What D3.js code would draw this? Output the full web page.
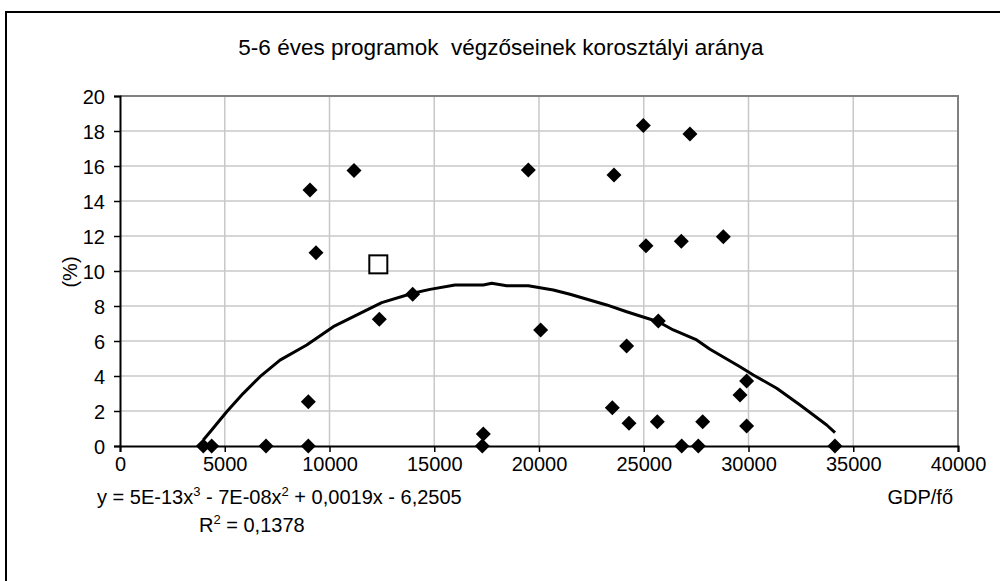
<!DOCTYPE html>
<meta charset="utf-8">
<style>

body {
  margin: 0;
  background: #fff;
}

svg {
  font-family: "Liberation Sans", Arial, sans-serif;
}

.grid line {
  stroke: #c8c8c8;
  stroke-width: 1.5;
}

</style>
<svg width="1000" height="581"></svg>
<script src="https://d3js.org/d3.v7.min.js"></script>
<script>

// GDP/fő (x) es arany % (y), ahogy a kepről leolvastam
var gdp = [3977, 4375, 6969, 8989, 8989, 9069, 9355, 11169, 12377, 13970, 17295, 17342,
           19489, 20079, 23499, 23579, 24184, 24295, 24978, 25106, 25647, 25695, 26793, 26810,
           27206, 27604, 27812, 28797, 29593, 29911, 29911, 34127];
var arany = [0, 0, 0, 0, 2.53, 14.63, 11.05, 15.75, 7.24, 8.67, 0, 0.69,
             15.77, 6.63, 2.19, 15.49, 5.71, 1.3, 18.32, 11.45, 1.39, 7.14, 11.7, 0,
             17.83, 0, 1.39, 11.96, 2.91, 3.71, 1.14, 0];

// kiemelt orszag (ures negyzet)
var kiemeltGdp = [12330];
var kiemeltArany = [10.38];

// trendvonal pontjai (leolvasva)
var trendX = [3976, 4377, 5093, 5886, 6683, 7637, 8912, 10181, 11456, 12492, 13971, 14797,
              15990, 17341, 17742, 18458, 19489, 20683, 21480, 23231, 24186, 24821, 25695,
              26410, 27527, 28162, 29594, 30229, 31346, 32461, 33733, 34129];
var trendY = [0.34, 0.91, 1.96, 3.01, 3.96, 4.91, 5.77, 6.82, 7.58, 8.19, 8.73, 8.95,
              9.2, 9.2, 9.3, 9.16, 9.16, 8.91, 8.67, 8.06, 7.67, 7.43, 7.1,
              6.63, 6.06, 5.53, 4.53, 4.06, 3.3, 2.34, 1.2, 0.76];

var xTicks = [0, 5000, 10000, 15000, 20000, 25000, 30000, 35000, 40000];
var yTicks = [0, 2, 4, 6, 8, 10, 12, 14, 16, 18, 20];

var svg = d3.select("svg");

var plot = {left: 120, right: 958, top: 96, bottom: 446};

var x = d3.scaleLinear().domain([0, 40000]).range([plot.left, plot.right]),
    y = d3.scaleLinear().domain([0, 20]).range([plot.bottom, plot.top]);

// kulso keret
svg.append("rect")
    .attr("x", 6)
    .attr("y", 12)
    .attr("width", 1100)
    .attr("height", 700)
    .attr("fill", "#fff")
    .attr("stroke", "#000")
    .attr("stroke-width", 2);

// racsvonalak
svg.append("g")
    .attr("class", "grid")
    .selectAll("line")
    .data(yTicks.slice(1))
  .enter().append("line")
    .attr("x1", plot.left).attr("x2", plot.right)
    .attr("y1", function(d) { return y(d); })
    .attr("y2", function(d) { return y(d); });

svg.append("g")
    .attr("class", "grid")
    .selectAll("line")
    .data(xTicks.slice(1))
  .enter().append("line")
    .attr("y1", plot.top).attr("y2", plot.bottom)
    .attr("x1", function(d) { return x(d); })
    .attr("x2", function(d) { return x(d); });

// felso es jobb szel
svg.append("path")
    .attr("d", "M" + plot.left + "," + plot.top + "H" + plot.right + "V" + plot.bottom)
    .attr("fill", "none")
    .attr("stroke", "#808080")
    .attr("stroke-width", 2);

// tengelyek
var xAxis = svg.append("g")
    .attr("transform", "translate(0," + plot.bottom + ")")
    .call(d3.axisBottom(x).tickValues(xTicks).tickFormat(d3.format("d"))
      .tickSizeOuter(0).tickSize(6).tickPadding(5));

var yAxis = svg.append("g")
    .attr("transform", "translate(" + plot.left + ",0)")
    .call(d3.axisLeft(y).tickValues(yTicks).tickSizeOuter(0).tickSize(6).tickPadding(9));

[xAxis, yAxis].forEach(function(a) {
  a.select(".domain").attr("stroke", "#000").attr("stroke-width", 2);
  a.selectAll(".tick line").attr("stroke", "#000").attr("stroke-width", 1.5);
  a.selectAll("text")
      .attr("fill", "#000")
      .style("font-family", "'Liberation Sans', Arial, sans-serif")
      .style("font-size", "20px");
});
yAxis.selectAll("text").attr("dy", "0.36em");

// trendvonal
var line = d3.line()
    .x(function(d) { return x(d[0]); })
    .y(function(d) { return y(d[1]); });

svg.append("path")
    .datum(d3.zip(trendX, trendY))
    .attr("d", line)
    .attr("fill", "none")
    .attr("stroke", "#000")
    .attr("stroke-width", 3)
    .attr("stroke-linejoin", "round");

// pontok (rombusz)
svg.append("g")
    .selectAll("path")
    .data(d3.zip(gdp, arany))
  .enter().append("path")
    .attr("transform", function(d) { return "translate(" + x(d[0]) + "," + y(d[1]) + ")"; })
    .attr("d", "M0,-7.5L7.5,0L0,7.5L-7.5,0Z")
    .attr("fill", "#000");

svg.append("g")
    .selectAll("rect")
    .data(d3.zip(kiemeltGdp, kiemeltArany))
  .enter().append("rect")
    .attr("x", function(d) { return x(d[0]) - 9; })
    .attr("y", function(d) { return y(d[1]) - 9; })
    .attr("width", 18)
    .attr("height", 18)
    .attr("fill", "#fff")
    .attr("stroke", "#000")
    .attr("stroke-width", 2);

// feliratok
svg.append("text")
    .attr("x", 501)
    .attr("y", 55)
    .attr("text-anchor", "middle")
    .attr("xml:space", "preserve")
    .style("font-size", "22.5px")
    .text("5-6 éves programok  végzőseinek korosztályi aránya");

svg.append("text")
    .attr("transform", "translate(77,272) rotate(-90)")
    .attr("text-anchor", "middle")
    .style("font-size", "20px")
    .text("(%)");

var eq = svg.append("text")
    .attr("x", 97)
    .attr("y", 504)
    .style("font-size", "20px");
eq.append("tspan").text("y = 5E-13x");
eq.append("tspan").attr("dy", -8).style("font-size", "13px").text("3");
eq.append("tspan").attr("dy", 8).text(" - 7E-08x");
eq.append("tspan").attr("dy", -8).style("font-size", "13px").text("2");
eq.append("tspan").attr("dy", 8).text(" + 0,0019x - 6,2505");

var r2 = svg.append("text")
    .attr("x", 199)
    .attr("y", 532)
    .style("font-size", "20px");
r2.append("tspan").text("R");
r2.append("tspan").attr("dy", -8).style("font-size", "13px").text("2");
r2.append("tspan").attr("dy", 8).text(" = 0,1378");

svg.append("text")
    .attr("x", 953)
    .attr("y", 504)
    .attr("text-anchor", "end")
    .style("font-size", "20px")
    .text("GDP/fő");

</script>
